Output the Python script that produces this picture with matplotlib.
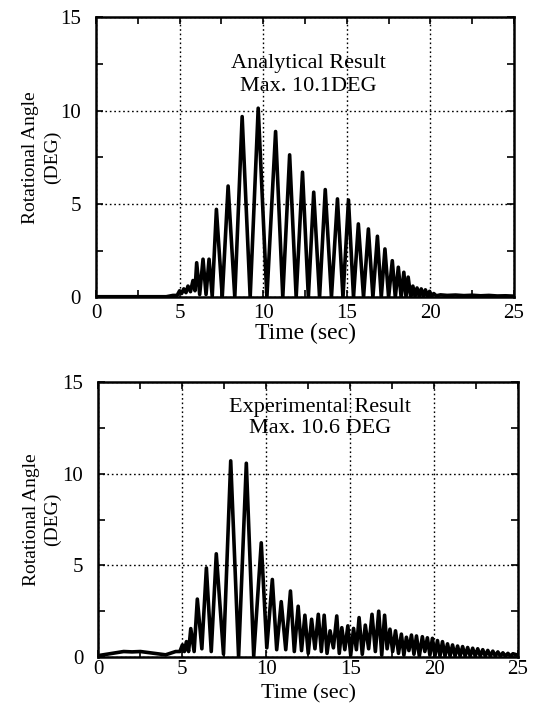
import matplotlib
matplotlib.use("Agg")
import matplotlib.pyplot as plt
from matplotlib.ticker import MultipleLocator

# ---------------- data ----------------
# Analytical result: peaks and troughs of the rotational angle trace
top_peak_t = [4.6, 5.0, 5.25, 5.5, 5.8, 6.02, 6.4, 6.76, 7.2, 7.9, 8.74, 9.7, 10.74,
              11.58, 12.35, 13.02, 13.71, 14.44, 15.1, 15.69, 16.29, 16.83, 17.28,
              17.72, 18.08, 18.41, 18.67, 18.95, 19.2, 19.45, 19.7, 19.95, 20.2,
              20.6, 21.5, 22.5, 23.5, 24.5]
top_peak_y = [0.1, 0.35, 0.45, 0.6, 0.9, 1.85, 2.04, 2.04, 4.71, 5.96, 9.68, 10.13, 8.88,
              7.63, 6.7, 5.63, 5.77, 5.27, 5.21, 3.93, 3.66, 3.27, 2.59,
              1.96, 1.61, 1.34, 1.08, 0.6, 0.5, 0.45, 0.4, 0.32, 0.2,
              0.13, 0.12, 0.11, 0.1, 0.08]
top_trough_t = [0.0, 4.2, 4.85, 5.12, 5.38, 5.65, 5.92, 6.2, 6.58, 6.95, 7.55, 8.3, 9.22,
                10.22, 11.17, 11.97, 12.7, 13.37, 14.08, 14.77, 15.4, 16.0, 16.56,
                17.06, 17.5, 17.9, 18.25, 18.54, 18.82, 19.08, 19.33, 19.58, 19.83,
                20.08, 20.35, 21.0, 22.0, 23.0, 24.0, 25.0]
top_trough_y = [0.03, 0.03, 0.1, 0.2, 0.25, 0.3, 0.35, 0.15, 0.15, 0.05, 0.02, 0.0, 0.0,
                0.0, 0.0, 0.0, 0.0, 0.0, 0.0, 0.0, 0.0, 0.0, 0.0,
                0.0, 0.0, 0.0, 0.0, 0.02, 0.03, 0.05, 0.05, 0.05, 0.05,
                0.05, 0.08, 0.1, 0.09, 0.08, 0.07, 0.06]

# Experimental result: peaks and troughs of the rotational angle trace
bot_peak_t = [1.5, 2.5, 4.6, 5.0, 5.24, 5.5, 5.89, 6.43, 7.02, 7.88, 8.81, 9.70, 10.36,
              10.89, 11.44, 11.9, 12.3, 12.7, 13.1, 13.45, 13.8, 14.2, 14.5, 14.86,
              15.2, 15.53, 15.9, 16.3, 16.7, 17.05, 17.37, 17.7, 18.05, 18.35, 18.65,
              18.95, 19.3, 19.6, 19.9, 20.2, 20.5, 20.8, 21.1, 21.4, 21.7, 22.0, 22.3,
              22.6, 22.9, 23.2, 23.5, 23.8, 24.1, 24.4, 24.7]
bot_peak_y = [0.3, 0.3, 0.3, 0.66, 0.84, 1.55, 3.16, 4.86, 5.63, 10.7, 10.57, 6.23, 4.23,
              3.02, 3.6, 2.77, 2.28, 2.06, 2.33, 2.28, 1.43, 2.24, 1.6, 1.7,
              1.56, 2.15, 1.74, 2.33, 2.5, 2.28, 1.52, 1.43, 1.25, 1.08, 1.2,
              1.15, 1.11, 1.05, 1.02, 0.9, 0.84, 0.72, 0.66, 0.6, 0.57, 0.52, 0.48,
              0.45, 0.4, 0.36, 0.32, 0.28, 0.23, 0.2, 0.18]
bot_trough_t = [0.0, 2.0, 4.0, 4.85, 5.12, 5.37, 5.7, 6.16, 6.72, 7.45, 8.35, 9.25, 10.03,
                10.62, 11.16, 11.67, 12.1, 12.5, 12.9, 13.28, 13.62, 14.0, 14.35, 14.68,
                15.03, 15.37, 15.72, 16.1, 16.5, 16.88, 17.2, 17.53, 17.88, 18.2, 18.5,
                18.8, 19.12, 19.45, 19.75, 20.05, 20.35, 20.65, 20.95, 21.25, 21.55,
                21.85, 22.15, 22.45, 22.75, 23.05, 23.35, 23.65, 23.95, 24.25, 24.55, 25.0]
bot_trough_y = [0.08, 0.28, 0.12, 0.3, 0.3, 0.3, 0.3, 0.45, 0.3, 0.16, 0.0, 0.05, 0.5,
                0.4, 0.4, 0.3, 0.35, 0.2, 0.45, 0.3, 0.2, 0.5, 0.2, 0.4,
                0.1, 0.4, 0.15, 0.45, 0.3, 0.1, 0.45, 0.3, 0.2, 0.1, 0.35,
                0.15, 0.05, 0.3, 0.1, 0.05, 0.05, 0.05, 0.05, 0.05, 0.05,
                0.05, 0.05, 0.05, 0.05, 0.05, 0.05, 0.05, 0.05, 0.05, 0.05, 0.1]

x_ticks = [0, 5, 10, 15, 20, 25]
y_ticks = [0, 5, 10, 15]
top_title = ["Analytical Result", "Max. 10.1DEG"]
bot_title = ["Experimental Result", "Max. 10.6 DEG"]
x_label = "Time (sec)"
y_label = "Rotational Angle\n(DEG)"


def merge(pt, py, tt, ty):
    pts = sorted(list(zip(pt, py)) + list(zip(tt, ty)))
    return [p[0] for p in pts], [p[1] for p in pts]


plt.rcParams['font.family'] = ['Liberation Serif', 'DejaVu Serif']

fig = plt.figure(figsize=(5.37, 7.08), dpi=100)
ax1 = fig.add_axes([0.1788, 0.5801, 0.7784, 0.3955])
ax2 = fig.add_axes([0.1834, 0.0720, 0.7812, 0.3884])

series = [
    (ax1, merge(top_peak_t, top_peak_y, top_trough_t, top_trough_y), top_title,
     (12.7, 12.55, 11.3), (-0.083, 0.5), (0.5, -0.092), 5, 17),
    (ax2, merge(bot_peak_t, bot_peak_y, bot_trough_t, bot_trough_y), bot_title,
     (13.2, 13.6, 12.45), (-0.088, 0.5), (0.5, -0.098), 2, 16),
]

for ax, (t, y), title, (tx, ty1, ty2), ylc, xlc, xpad, xls in series:
    ax.plot(t, y, color='black', lw=2.6, solid_joinstyle='round', zorder=3)
    ax.set_xlim(0, 25)
    ax.set_ylim(0, 15)
    ax.set_xticks(x_ticks)
    ax.set_yticks(y_ticks)
    ax.xaxis.set_minor_locator(MultipleLocator(2.5))
    ax.yaxis.set_minor_locator(MultipleLocator(2.5))
    ax.tick_params(which='both', direction='in', top=True, right=True,
                   labelsize=15, width=1.2, colors='black')
    ax.tick_params(which='major', length=5)
    ax.tick_params(which='minor', length=5)
    ax.tick_params(axis='x', which='major', pad=xpad)
    ax.tick_params(axis='y', which='major', pad=11)
    ax.grid(True, which='major', color='black', linestyle=(0, (1.2, 2)), linewidth=1.0)
    for s in ax.spines.values():
        s.set_linewidth(1.8)
    ax.set_xlabel(x_label, fontsize=xls)
    ax.set_ylabel(y_label, fontsize=14, linespacing=1.35)
    ax.yaxis.set_label_coords(*ylc)
    ax.xaxis.set_label_coords(*xlc)
    ax.text(tx, ty1, title[0], ha='center', va='center', fontsize=16)
    ax.text(tx, ty2, title[1], ha='center', va='center', fontsize=16)

fig.savefig("out.png", dpi=100, facecolor='white')
